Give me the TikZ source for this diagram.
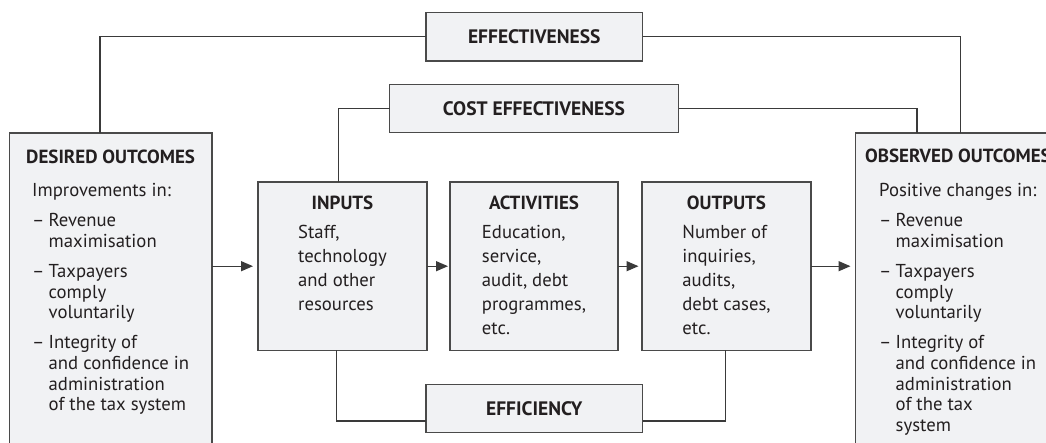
\documentclass[tikz,border=0pt]{standalone}
\usepackage{fontspec}
\setmainfont{PT Sans}
\usetikzlibrary{arrows.meta}
\definecolor{boxfill}{HTML}{F1F2F4}
\definecolor{boxline}{HTML}{4A4A4A}
\definecolor{ink}{HTML}{231F20}
\definecolor{wire}{HTML}{3A3A3A}
\newcommand{\itemdash}{\makebox[16.5pt][l]{–}}
\begin{document}
\begin{tikzpicture}[x=1pt,y=-1pt,
  box/.style={draw=boxline, fill=boxfill, line width=1.4pt, inner sep=0pt, outer sep=0pt},
  headbox/.style={box, text=ink, font=\fontsize{19.5}{22}\selectfont\bfseries},
  title/.style={text=ink, inner sep=0pt, font=\fontsize{19}{22}\selectfont\bfseries},
  outerbody/.style={text=ink, inner sep=0pt, font=\fontsize{18.7}{20.7}\selectfont},
  innerbody/.style={text=ink, inner sep=0pt, font=\fontsize{18.7}{24}\selectfont},
  wirestyle/.style={draw=wire, line width=1.3pt},
  flow/.style={wirestyle, -{Triangle[length=12pt,width=10pt]}},
]
\useasboundingbox (0,0) rectangle (1046,443);
\clip (0,0) rectangle (1046,443);

% measures at the top and bottom
\node[headbox, minimum width=216.5pt, minimum height=48.5pt] (eff)  at (534.25,36.75) {EFFECTIVENESS};
\node[headbox, minimum width=289pt,   minimum height=48.5pt] (cost) at (534,108.5)   {COST EFFECTIVENESS};
\node[headbox, minimum width=216.7pt, minimum height=48.4pt] (effi) at (534.3,408.5)  {EFFICIENCY};

% outcome columns (running past the lower edge)
\node[box, minimum width=202.7pt, minimum height=337pt] (desired)  at (110.65,301.5) {};
\node[box, minimum width=209.5pt, minimum height=337pt] (observed) at (960.25,301.5) {};

% chain of inputs, activities and outputs
\node[box, minimum width=169pt, minimum height=168.5pt] (inputs)     at (342.5,266.2) {};
\node[box, minimum width=168pt, minimum height=168.5pt] (activities) at (534,266.2)   {};
\node[box, minimum width=169pt, minimum height=168.5pt] (outputs)    at (726.5,266.2) {};

% texts of the outcome columns
\node[title, anchor=base] (desiredtitle) at (110.6,163.3) {DESIRED OUTCOMES};
\node[outerbody, anchor=base west] (desiredtext) at (32,196.7) {%
  \begin{tabular}[t]{@{}l@{}l@{}}
  \multicolumn{2}{@{}l@{}}{Improvements in:}\\[9.3pt]
  \itemdash & Revenue\\
            & maximisation\\[9.3pt]
  \itemdash & Taxpayers\\
            & comply\\
            & voluntarily\\[9.3pt]
  \itemdash & Integrity of\\
            & and confidence in\\
            & administration\\
            & of the tax system
  \end{tabular}};

\node[title, anchor=base west] (observedtitle) at (865,162.5) {OBSERVED OUTCOMES};
\node[outerbody, anchor=base west] (observedtext) at (879,196.7) {%
  \begin{tabular}[t]{@{}l@{}l@{}}
  \multicolumn{2}{@{}l@{}}{Positive changes in:}\\[9.3pt]
  \itemdash & Revenue\\
            & maximisation\\[9.3pt]
  \itemdash & Taxpayers\\
            & comply\\
            & voluntarily\\[9.3pt]
  \itemdash & Integrity of\\
            & and confidence in\\
            & administration\\
            & of the tax\\
            & system
  \end{tabular}};

% texts of the chain
\node[title, anchor=base] (inputstitle) at (342.5,210) {INPUTS};
\node[innerbody, anchor=base] (inputstext) at (342.5,238.3) {%
  \begin{tabular}[t]{@{}l@{}}Staff,\\ technology\\ and other\\ resources\end{tabular}};
\node[title, anchor=base] (activitiestitle) at (534,210) {ACTIVITIES};
\node[innerbody, anchor=base] (activitiestext) at (534,238.3) {%
  \begin{tabular}[t]{@{}l@{}}Education,\\ service,\\ audit, debt\\ programmes,\\ etc.\end{tabular}};
\node[title, anchor=base] (outputstitle) at (726.5,210) {OUTPUTS};
\node[innerbody, anchor=base] (outputstext) at (726.5,238.3) {%
  \begin{tabular}[t]{@{}l@{}}Number of\\ inquiries,\\ audits,\\ debt cases,\\ etc.\end{tabular}};

% links from the measures
\draw[wirestyle] (eff.west) -| ([xshift=-10.6pt]desired.north);
\draw[wirestyle] (eff.east) -| (observed.north);
\draw[wirestyle] (cost.west) -| ([xshift=-4.2pt]inputs.north);
\draw[wirestyle] (cost.east) -| ([xshift=-43.2pt]observed.north);
\draw[wirestyle] ([xshift=-5.8pt]inputs.south) |- ([yshift=-12.5pt]effi.west);
\draw[wirestyle] ([yshift=-12.5pt]effi.east) -| ([xshift=-0.8pt]outputs.south);

% flow arrows
\draw[flow, shorten >=5pt] (desired.east |- inputs.west) -- (inputs.west);
\draw[flow, shorten >=2pt] (inputs.east) -- (activities.west);
\draw[flow, shorten >=3.5pt] (activities.east) -- (outputs.west);
\draw[flow, shorten >=5pt] (outputs.east) -- (observed.west |- outputs.east);
\end{tikzpicture}
\end{document}
